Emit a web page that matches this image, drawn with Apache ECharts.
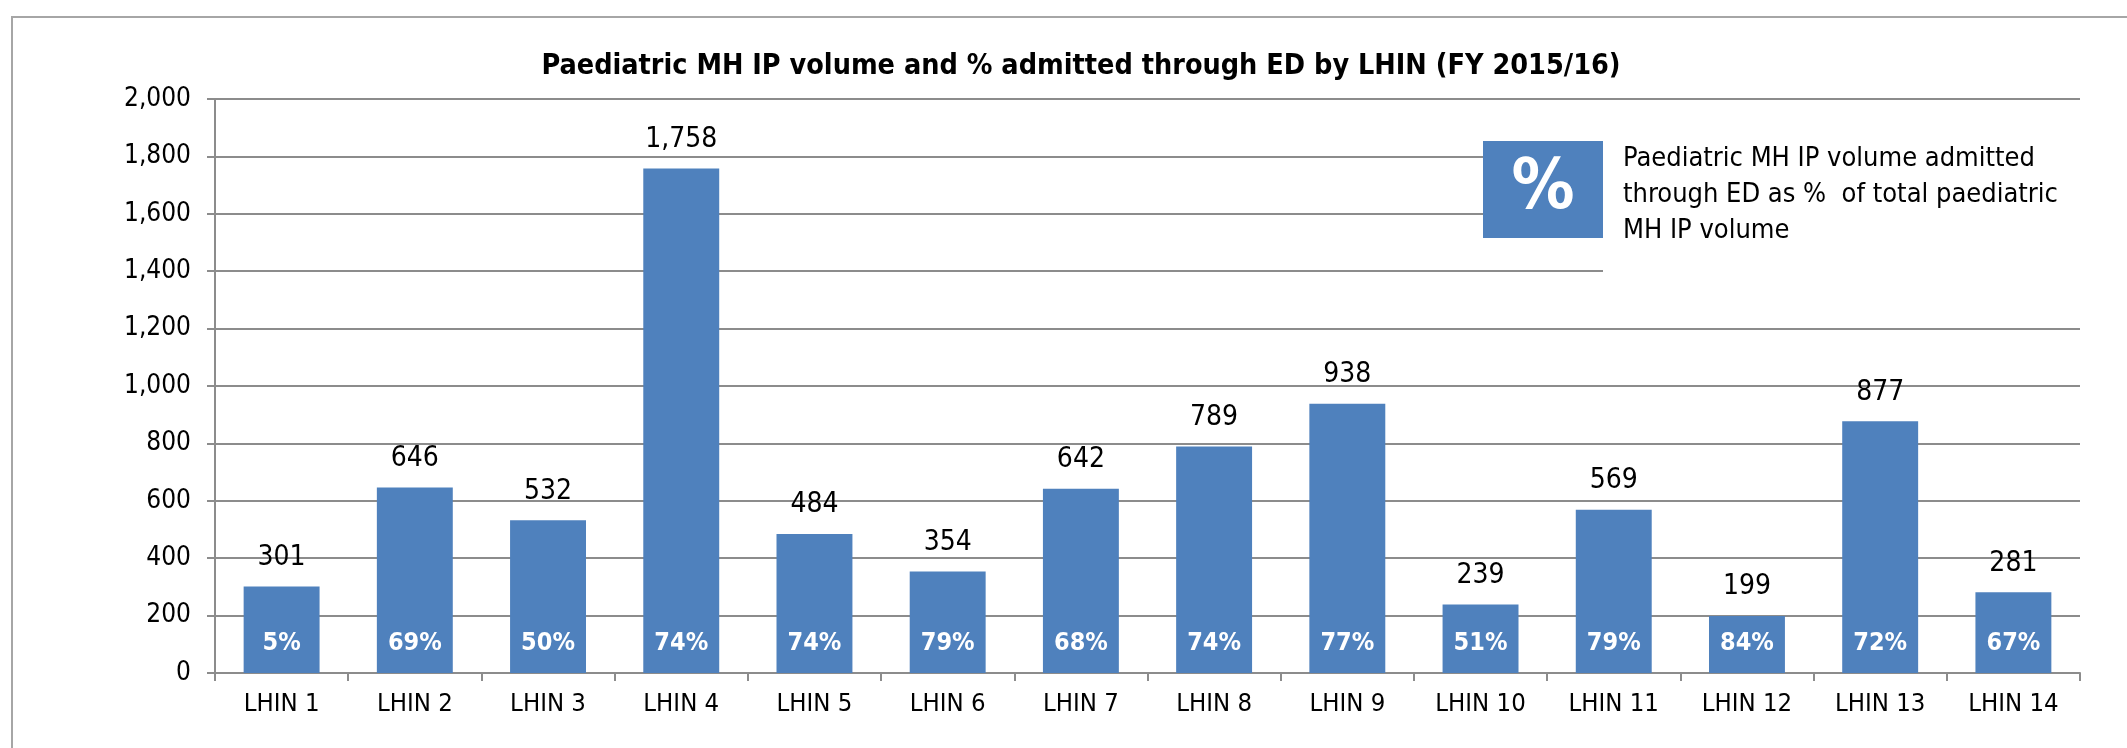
<!DOCTYPE html>
<html>
<head>
<meta charset="utf-8">
<title>Paediatric MH IP volume by LHIN</title>
<script src="https://cdn.jsdelivr.net/npm/echarts@6/dist/echarts.min.js"></script>
<style>
  html, body { margin: 0; padding: 0; background: #fff; }
  #chart { width: 2127px; height: 748px; }
</style>
</head>
<body>
<div id="chart"></div>
<script>
// categories and values
const lhins = ['LHIN 1', 'LHIN 2', 'LHIN 3', 'LHIN 4', 'LHIN 5', 'LHIN 6', 'LHIN 7',
               'LHIN 8', 'LHIN 9', 'LHIN 10', 'LHIN 11', 'LHIN 12', 'LHIN 13', 'LHIN 14'];
const ipVolume = [301, 646, 532, 1758, 484, 354, 642, 789, 938, 239, 569, 199, 877, 281];
const pctThroughED = [5, 69, 50, 74, 74, 79, 68, 74, 77, 51, 79, 84, 72, 67];

const FONT = "'Liberation Sans Narrow', 'Arial Narrow', 'DejaVu Sans Condensed', sans-serif";
const BLUE = '#4F81BD';
const GRID_GREY = '#8c8c8c';

function withCommas(v){
    return String(v).replace(/\B(?=(\d{3})+(?!\d))/g, ',');
}

const chart = echarts.init(document.getElementById('chart'));

const options = {
    backgroundColor: '#FFFFFF',
    animation: false,
    textStyle: { fontFamily: FONT },
    title: {
        text: 'Paediatric MH IP volume and % admitted through ED by LHIN (FY 2015/16)',
        left: 1076,
        textAlign: 'center',
        top: 47,
        textStyle: { fontFamily: FONT, fontSize: 28.5, fontWeight: 'bold', color: '#000' }
    },
    grid: { left: 215, right: 47, top: 99, bottom: 75 },
    xAxis: {
        type: 'category',
        data: lhins,
        axisLine: { lineStyle: { color: GRID_GREY, width: 2 } },
        axisTick: { show: true, length: 8, lineStyle: { color: GRID_GREY, width: 2 } },
        axisLabel: { fontFamily: FONT, fontSize: 25.5, color: '#000', margin: 18 }
    },
    yAxis: {
        type: 'value',
        min: 0,
        max: 2000,
        interval: 200,
        axisLine: { show: true, lineStyle: { color: GRID_GREY, width: 2 } },
        axisTick: { show: true, length: 8, lineStyle: { color: GRID_GREY, width: 2 } },
        splitLine: { lineStyle: { color: GRID_GREY, width: 2 } },
        axisLabel: {
            fontFamily: FONT, fontSize: 26, color: '#000', margin: 24,
            formatter: withCommas
        }
    },
    series: [{
        name: 'Volume',
        type: 'bar',
        data: ipVolume,
        barWidth: '57%',
        itemStyle: { color: BLUE },
        label: {
            show: true,
            position: 'insideBottom',
            distance: 17,
            fontFamily: FONT,
            fontSize: 25,
            fontWeight: 'bold',
            color: '#fff',
            formatter: p => pctThroughED[p.dataIndex] + '%'
        }
    }, {
        name: 'Volume label',
        type: 'bar',
        data: ipVolume,
        barWidth: '57%',
        barGap: '-100%',
        silent: true,
        itemStyle: { color: 'rgba(0,0,0,0)' },
        label: {
            show: true,
            position: 'top',
            distance: 15,
            fontFamily: FONT,
            fontSize: 28,
            color: '#000',
            formatter: p => withCommas(p.value)
        }
    }],
    graphic: [{
        // outer frame of the chart area (top and left edges)
        type: 'polyline',
        z: 20,
        shape: { points: [[12, 748], [12, 17], [2127, 17]] },
        style: { stroke: '#a6a6a6', lineWidth: 2, fill: null }
    }, {
        // text box background, hides gridlines behind the note
        type: 'rect',
        z: 20,
        shape: { x: 1603, y: 112, width: 490, height: 195 },
        style: { fill: '#fff' }
    }, {
        type: 'rect',
        z: 21,
        shape: { x: 1483, y: 141, width: 120, height: 97 },
        style: { fill: BLUE }
    }, {
        type: 'text',
        z: 22,
        x: 1543,
        y: 190,
        style: {
            text: '%',
            fill: '#fff',
            font: 'bold 70px ' + FONT,
            textAlign: 'center',
            textVerticalAlign: 'middle'
        }
    }, {
        type: 'text',
        z: 22,
        x: 1623,
        y: 141,
        style: {
            text: 'Paediatric MH IP volume admitted\nthrough ED as %  of total paediatric\nMH IP volume',
            fill: '#000',
            font: '27px ' + FONT,
            lineHeight: 36
        }
    }]
};

chart.setOption(options);
</script>
</body>
</html>
